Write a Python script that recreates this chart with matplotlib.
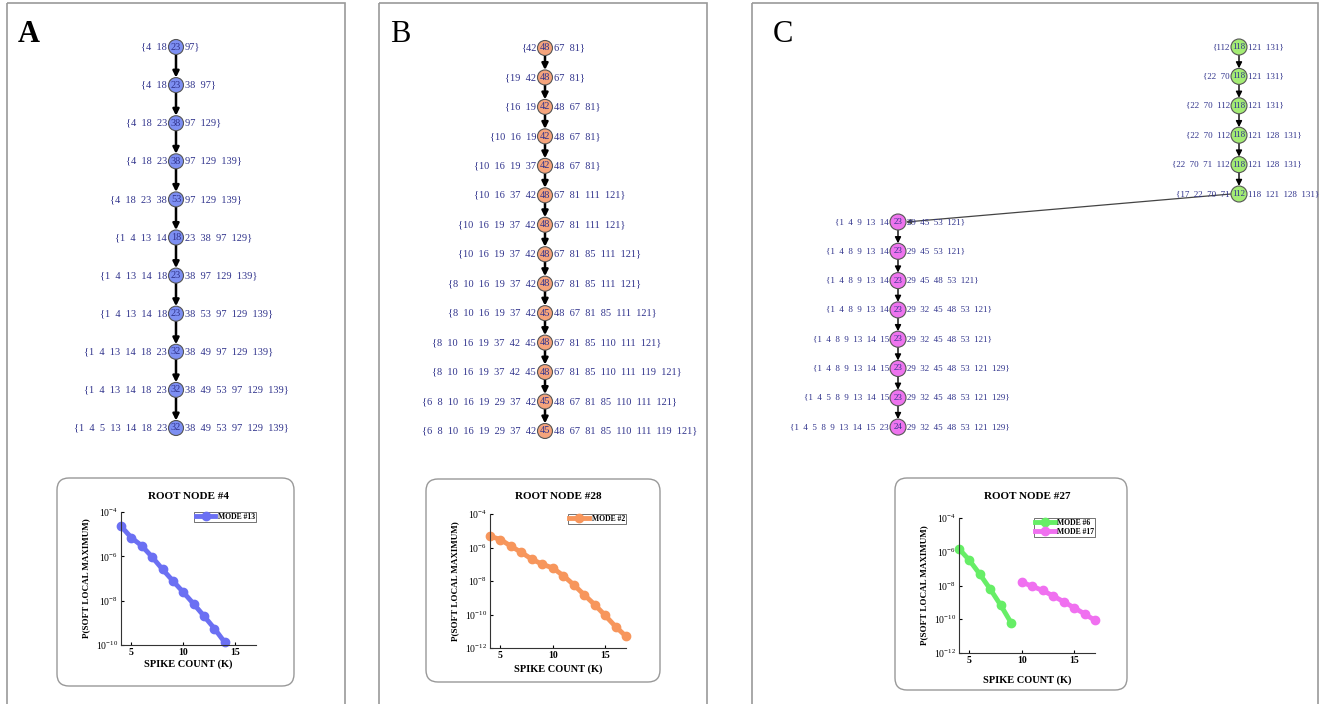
import matplotlib
matplotlib.use("Agg")
import matplotlib.pyplot as plt
from matplotlib.patches import Circle, Rectangle, FancyBboxPatch

plt.rcParams["font.family"] = "serif"
plt.rcParams["font.serif"] = ["Liberation Serif", "DejaVu Serif"]
plt.rcParams["mathtext.default"] = "regular"

# ---- tree data: the set at each node and the node's own spike ----
sets_a = [
    [4, 18, 23, 97],
    [4, 18, 23, 38, 97],
    [4, 18, 23, 38, 97, 129],
    [4, 18, 23, 38, 97, 129, 139],
    [4, 18, 23, 38, 53, 97, 129, 139],
    [1, 4, 13, 14, 18, 23, 38, 97, 129],
    [1, 4, 13, 14, 18, 23, 38, 97, 129, 139],
    [1, 4, 13, 14, 18, 23, 38, 53, 97, 129, 139],
    [1, 4, 13, 14, 18, 23, 32, 38, 49, 97, 129, 139],
    [1, 4, 13, 14, 18, 23, 32, 38, 49, 53, 97, 129, 139],
    [1, 4, 5, 13, 14, 18, 23, 32, 38, 49, 53, 97, 129, 139],
]
nodes_a = [23, 23, 38, 38, 53, 18, 23, 23, 32, 32, 32]

sets_b = [
    [42, 48, 67, 81],
    [19, 42, 48, 67, 81],
    [16, 19, 42, 48, 67, 81],
    [10, 16, 19, 42, 48, 67, 81],
    [10, 16, 19, 37, 42, 48, 67, 81],
    [10, 16, 37, 42, 48, 67, 81, 111, 121],
    [10, 16, 19, 37, 42, 48, 67, 81, 111, 121],
    [10, 16, 19, 37, 42, 48, 67, 81, 85, 111, 121],
    [8, 10, 16, 19, 37, 42, 48, 67, 81, 85, 111, 121],
    [8, 10, 16, 19, 37, 42, 45, 48, 67, 81, 85, 111, 121],
    [8, 10, 16, 19, 37, 42, 45, 48, 67, 81, 85, 110, 111, 121],
    [8, 10, 16, 19, 37, 42, 45, 48, 67, 81, 85, 110, 111, 119, 121],
    [6, 8, 10, 16, 19, 29, 37, 42, 45, 48, 67, 81, 85, 110, 111, 121],
    [6, 8, 10, 16, 19, 29, 37, 42, 45, 48, 67, 81, 85, 110, 111, 119, 121],
]
nodes_b = [48, 48, 42, 42, 42, 48, 48, 48, 48, 45, 48, 48, 45, 45]

sets_c1 = [
    [112, 118, 121, 131],
    [22, 70, 118, 121, 131],
    [22, 70, 112, 118, 121, 131],
    [22, 70, 112, 118, 121, 128, 131],
    [22, 70, 71, 112, 118, 121, 128, 131],
    [17, 22, 70, 71, 112, 118, 121, 128, 131],
]
nodes_c1 = [118, 118, 118, 118, 118, 112]

sets_c2 = [
    [1, 4, 9, 13, 14, 23, 29, 45, 53, 121],
    [1, 4, 8, 9, 13, 14, 23, 29, 45, 53, 121],
    [1, 4, 8, 9, 13, 14, 23, 29, 45, 48, 53, 121],
    [1, 4, 8, 9, 13, 14, 23, 29, 32, 45, 48, 53, 121],
    [1, 4, 8, 9, 13, 14, 15, 23, 29, 32, 45, 48, 53, 121],
    [1, 4, 8, 9, 13, 14, 15, 23, 29, 32, 45, 48, 53, 121, 129],
    [1, 4, 5, 8, 9, 13, 14, 15, 23, 29, 32, 45, 48, 53, 121, 129],
    [1, 4, 5, 8, 9, 13, 14, 15, 23, 24, 29, 32, 45, 48, 53, 121, 129],
]
nodes_c2 = [23, 23, 23, 23, 23, 23, 23, 24]

# ---- inset curves: P(soft local maximum) vs spike count ----
k_a = [4, 5, 6, 7, 8, 9, 10, 11, 12, 13, 14]
p_a = [2.3e-5, 6.9e-6, 3.0e-6, 9.3e-7, 2.6e-7, 7.8e-8, 2.4e-8, 7.1e-9, 2.0e-9, 5.5e-10, 1.3e-10]

k_b = [4, 5, 6, 7, 8, 9, 10, 11, 12, 13, 14, 15, 16, 17]
p_b = [4.7e-6, 3.0e-6, 1.2e-6, 5.1e-7, 2.0e-7, 1.0e-7, 6.0e-8, 2.1e-8, 6.0e-9,
       1.5e-9, 3.9e-10, 8.9e-11, 1.9e-11, 5.0e-12]

k_c1 = [4, 5, 6, 7, 8, 9]
p_c1 = [1.5e-6, 3.1e-7, 4.6e-8, 5.9e-9, 6.6e-10, 5.9e-11]
k_c2 = [10, 11, 12, 13, 14, 15, 16, 17]
p_c2 = [1.6e-8, 8.9e-9, 5.1e-9, 2.4e-9, 1.1e-9, 4.8e-10, 2.1e-10, 8.5e-11]

W, H = 1322, 704
TXT = "#30338c"

fig = plt.figure(figsize=(W / 100, H / 100), dpi=100)
base = fig.add_axes([0, 0, 1, 1])
base.set_xlim(0, W)
base.set_ylim(H, 0)
base.axis("off")


def draw_chain(sets, nodes, x, y0, dy, fc, fs, lw, r=7.5, gap=9):
    ys = [y0 + i * dy for i in range(len(sets))]
    for i, (s, n) in enumerate(zip(sets, nodes)):
        y = ys[i]
        k = s.index(n)
        left = "{" + "  ".join(str(v) for v in s[:k])
        right = "  ".join(str(v) for v in s[k + 1:]) + "}"
        base.text(x - gap, y, left, ha="right", va="center", fontsize=fs, color=TXT, zorder=4)
        base.text(x + gap, y, right, ha="left", va="center", fontsize=fs, color=TXT, zorder=4)
        base.text(x, y, str(n), ha="center", va="center", fontsize=fs, color=TXT, zorder=5)
        base.add_patch(Circle((x, y), r, facecolor=fc, edgecolor="#555555", lw=0.8, zorder=3))
        if i + 1 < len(sets):
            base.annotate("", xy=(x, ys[i + 1] - r), xytext=(x, y + r),
                          arrowprops=dict(arrowstyle="-|>", color="black", lw=lw,
                                          mutation_scale=9, shrinkA=0, shrinkB=0),
                          zorder=2)
    return ys


def draw_inset(box, axpx, title, series, ylim, yticks, title_pad, xlabel_pad):
    bl, bt, br, bb = box
    base.add_patch(FancyBboxPatch((bl, bt), br - bl, bb - bt,
                                  boxstyle="round,pad=0,rounding_size=12",
                                  facecolor="white", edgecolor="#999999", lw=1, zorder=1))
    l, t, r, b = axpx
    ax = fig.add_axes([l / W, 1 - b / H, (r - l) / W, (b - t) / H])
    ax.set_facecolor("none")
    for k, p, c, lab in series:
        ax.plot(k, p, color=c, lw=3.5, marker="o", ms=6, label=lab, clip_on=False)
    ax.set_yscale("log")
    ax.set_xlim(4, 17)
    ax.set_ylim(*ylim)
    ax.set_yticks(yticks)
    ax.minorticks_off()
    ax.set_xticks([5, 10, 15])
    ax.tick_params(labelsize=7, length=2, direction="in", pad=2)
    for lbl in ax.get_xticklabels():
        lbl.set_fontweight("bold")
    for side in ("top", "right"):
        ax.spines[side].set_visible(False)
    for side in ("left", "bottom"):
        ax.spines[side].set_color("#333333")
        ax.spines[side].set_linewidth(0.8)
    ax.set_title(title, fontsize=8, fontweight="bold", pad=title_pad)
    ax.set_xlabel("SPIKE COUNT (K)", fontsize=7.5, fontweight="bold", labelpad=xlabel_pad)
    ax.set_ylabel("P(SOFT LOCAL MAXIMUM)", fontsize=6.5, fontweight="bold", labelpad=4)
    leg = ax.legend(loc="upper right", fontsize=5.5, frameon=True, fancybox=False,
                    borderaxespad=0.0, borderpad=0.15, handlelength=2.6,
                    labelspacing=0.05, handletextpad=0.3,
                    prop={"weight": "bold", "size": 5.5})
    leg.get_frame().set_edgecolor("#333333")
    leg.get_frame().set_linewidth(0.6)
    return ax


# panel borders
for l, r in [(7, 345), (379, 707), (752, 1318)]:
    base.add_patch(Rectangle((l, 3), r - l, H + 10, facecolor="none",
                             edgecolor="#9a9a9a", lw=1.2, zorder=0))

base.text(29, 34, "A", fontsize=22, fontweight="bold", ha="center", va="center")
base.text(400, 34, "B", fontsize=22, ha="center", va="center")
base.text(783, 35, "C", fontsize=22, ha="center", va="center")

# trees
draw_chain(sets_a, nodes_a, 176, 47, 38.1, "#7d8ff2", 7.5, 1.8)
draw_chain(sets_b, nodes_b, 545, 48, 29.46, "#f5a47c", 7.5, 1.8)
g_ys = draw_chain(sets_c1, nodes_c1, 1239, 47, 29.4, "#a4ec74", 6.5, 1.0, r=8)
m_ys = draw_chain(sets_c2, nodes_c2, 898, 222, 29.3, "#ee74ee", 6.5, 1.0, r=8)
base.annotate("", xy=(898 + 8, m_ys[0]), xytext=(1239 - 8, g_ys[-1]),
              arrowprops=dict(arrowstyle="-|>", color="#444444", lw=0.9,
                              mutation_scale=7, shrinkA=0, shrinkB=0), zorder=2)

# insets
draw_inset((57, 478, 294, 686), (121, 512, 256, 645), "ROOT NODE #4",
           [(k_a, p_a, "#6b70f3", "MODE #13")],
           (1e-10, 1e-4), [1e-10, 1e-8, 1e-6, 1e-4], 9, 2)
draw_inset((426, 479, 660, 682), (490, 514, 626, 648), "ROOT NODE #28",
           [(k_b, p_b, "#f7965c", "MODE #2")],
           (1e-12, 1e-4), [1e-12, 1e-10, 1e-8, 1e-6, 1e-4], 11, 3)
draw_inset((895, 478, 1127, 690), (959, 518, 1095, 653), "ROOT NODE #27",
           [(k_c1, p_c1, "#66ee66", "MODE #6"), (k_c2, p_c2, "#f070f0", "MODE #17")],
           (1e-12, 1e-4), [1e-12, 1e-10, 1e-8, 1e-6, 1e-4], 14, 8)

fig.savefig("out.png", dpi=100)
